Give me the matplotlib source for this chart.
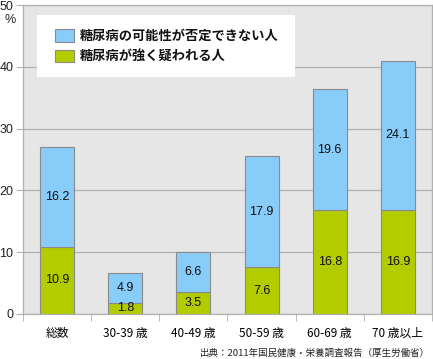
import numpy as np
import matplotlib
import matplotlib.pyplot as plt
from matplotlib.patches import Rectangle

matplotlib.use("Agg")
plt.rcParams['font.family'] = ['Noto Sans CJK JP', 'DejaVu Sans']

categories = ["総数", "30-39 歳", "40-49 歳", "50-59 歳", "60-69 歳", "70 歳以上"]
strong = [10.9, 1.8, 3.5, 7.6, 16.8, 16.9]      # 糖尿病が強く疑われる人
possible = [16.2, 4.9, 6.6, 17.9, 19.6, 24.1]   # 糖尿病の可能性が否定できない人
labels = ["糖尿病の可能性が否定できない人", "糖尿病が強く疑われる人"]
yticks = [0, 10, 20, 30, 40, 50]

BLUE = "#88ccfa"
GREEN = "#b3cc00"
EDGE = "#8a8a8a"
GRID = "#b0b0b0"
W, H = 433, 359


def fx(px):
    return px / W


def fy(py):
    return 1 - py / H


fig = plt.figure(figsize=(W / 100, H / 100), dpi=100)
ax = fig.add_axes([fx(23), fy(314), 409 / W, 309 / H])
ax.set_facecolor("#e6e6e6")

x = np.arange(len(categories))
ax.bar(x, strong, width=0.5, color=GREEN, edgecolor=EDGE, lw=0.8, zorder=3)
ax.bar(x, possible, width=0.5, bottom=strong, color=BLUE, edgecolor=EDGE, lw=0.8, zorder=3)

for xi, s, p in zip(x, strong, possible):
    ax.text(xi, s / 2, f"{s}", ha="center", va="center", fontsize=9,
            color="#111111", zorder=4, family="Liberation Sans")
    ax.text(xi, s + p / 2, f"{p}", ha="center", va="center", fontsize=9,
            color="#111111", zorder=4, family="Liberation Sans")

ax.set_xlim(-0.5, len(categories) - 0.5)
ax.set_ylim(0, 50)
ax.set_yticks(yticks)
ax.set_yticklabels([str(v) for v in yticks], fontsize=9, family="Liberation Sans")
ax.yaxis.grid(True, color=GRID, lw=0.9, zorder=0)
ax.set_axisbelow(True)

ax.set_xticks(x)
ax.set_xticklabels(categories, fontsize=8.5)
ax.tick_params(axis="x", length=0, pad=9)
ax.set_xticks(np.arange(len(categories) + 1) - 0.5, minor=True)
ax.tick_params(axis="x", which="minor", length=5, color=GRID, direction="out")
ax.tick_params(axis="y", length=5, color=GRID, pad=2, labelcolor="#222222")

for side in ["left", "bottom", "top", "right"]:
    ax.spines[side].set_color(GRID)
    ax.spines[side].set_linewidth(0.9)

fig.text(fx(10), fy(20), "%", ha="center", va="center",
         fontsize=9, family="Liberation Sans", color="#222222")

# legend box drawn by hand
box = Rectangle((fx(37), fy(77)), fx(295) - fx(37), fy(15) - fy(77),
                transform=fig.transFigure, facecolor="white", edgecolor="none",
                zorder=5, clip_on=False)
ax.add_patch(box)
for i, (lab, col) in enumerate(zip(labels, [BLUE, GREEN])):
    cy = 35.5 + 20 * i
    ax.add_patch(Rectangle((fx(55), fy(cy + 6)), fx(74) - fx(55), fy(cy - 6) - fy(cy + 6),
                           transform=fig.transFigure, facecolor=col, edgecolor=EDGE,
                           lw=0.8, zorder=6, clip_on=False))
    fig.text(fx(80), fy(cy), lab, ha="left", va="center", fontsize=9.5,
             weight="bold", color="#111111", zorder=7)

fig.text(fx(430), fy(353), "出典：2011年国民健康・栄養調査報告（厚生労働省）", ha="right",
         va="center", fontsize=6.8, color="#222222")

fig.savefig("out.png", dpi=100)
